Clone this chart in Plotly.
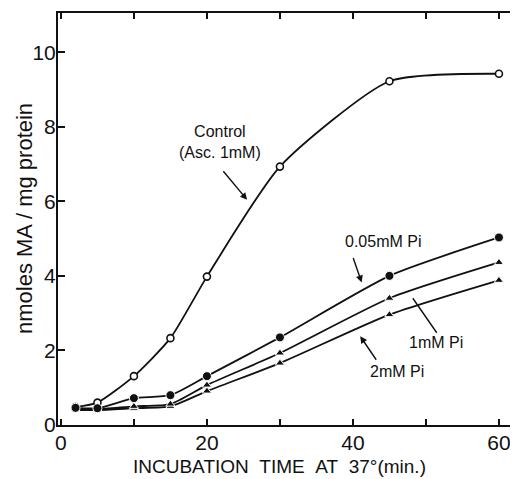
import plotly.graph_objects as go

# ---- data ----
time_min = [2, 5, 10, 15, 20, 30, 45, 60]
control = [0.48, 0.60, 1.31, 2.33, 3.98, 6.93, 9.22, 9.42]
pi_005mM = [0.46, 0.45, 0.72, 0.80, 1.31, 2.35, 4.00, 5.03]
pi_1mM = [0.42, 0.42, 0.50, 0.56, 1.07, 1.93, 3.40, 4.36]
pi_2mM = [0.40, 0.40, 0.45, 0.50, 0.91, 1.66, 2.96, 3.88]

x_tickvals = [0, 10, 20, 30, 40, 50, 60]
x_ticktext = ["0", "", "20", "", "40", "", "60"]
y_tickvals = [0, 2, 4, 6, 8, 10]
y_ticktext = ["0", "2", "4", "6", "8", "10"]

FONT = "Liberation Sans, Arial, sans-serif"
BLACK = "#111111"

fig = go.Figure()

line_style = dict(color=BLACK, width=1.8, shape="spline", smoothing=0.6)

fig.add_trace(go.Scatter(
    x=time_min, y=control, mode="lines+markers", name="Control",
    line=line_style,
    marker=dict(symbol="circle", size=7, color="white",
                line=dict(color=BLACK, width=1.6)),
))
fig.add_trace(go.Scatter(
    x=time_min, y=pi_2mM, mode="lines+markers", name="2mM Pi",
    line=line_style,
    marker=dict(symbol="triangle-up", size=8, color=BLACK,
                line=dict(color="white", width=1)),
))
fig.add_trace(go.Scatter(
    x=time_min, y=pi_1mM, mode="lines+markers", name="1mM Pi",
    line=line_style,
    marker=dict(symbol="triangle-up", size=8, color=BLACK,
                line=dict(color="white", width=1)),
))
fig.add_trace(go.Scatter(
    x=time_min, y=pi_005mM, mode="lines+markers", name="0.05mM Pi",
    line=line_style,
    marker=dict(symbol="circle", size=9, color=BLACK,
                line=dict(color="white", width=1)),
))

ann_font = dict(family=FONT, size=16, color=BLACK)

annotations = [
    # curve labels
    dict(x=21.8, y=7.6, xref="x", yref="y", text="Control<br>(Asc. 1mM)",
         showarrow=False, font=ann_font, align="center"),
    dict(x=44.1, y=4.92, xref="x", yref="y", text="0.05mM Pi",
         showarrow=False, font=ann_font),
    dict(x=51.4, y=2.22, xref="x", yref="y", text="1mM Pi",
         showarrow=False, font=ann_font),
    dict(x=46.0, y=1.44, xref="x", yref="y", text="2mM Pi",
         showarrow=False, font=ann_font),
    # pointer arrows
    dict(x=25.5, y=6.04, xref="x", yref="y", ax=-25, ay=-30, text="",
         showarrow=True, arrowhead=2, arrowsize=1, arrowwidth=1.4,
         arrowcolor=BLACK),
    dict(x=41.2, y=3.82, xref="x", yref="y", ax=-9, ay=-26, text="",
         showarrow=True, arrowhead=2, arrowsize=1, arrowwidth=1.4,
         arrowcolor=BLACK),
    dict(x=48.2, y=3.40, xref="x", yref="y", ax=25, ay=36, text="",
         showarrow=True, arrowhead=0, arrowwidth=1.4, arrowcolor=BLACK),
    dict(x=41.0, y=2.38, xref="x", yref="y", ax=17, ay=25, text="",
         showarrow=True, arrowhead=2, arrowsize=1, arrowwidth=1.4,
         arrowcolor=BLACK),
    # axis titles
    dict(x=0, y=0.5, xref="paper", yref="paper", xanchor="center",
         yanchor="middle", xshift=-34, textangle=-90,
         text="nmoles MA / mg protein", showarrow=False,
         font=dict(family=FONT, size=22, color=BLACK)),
    dict(x=0.484, y=0, xref="paper", yref="paper", xanchor="center",
         yanchor="middle", yshift=-41,
         text="INCUBATION\u00a0\u00a0TIME\u00a0\u00a0AT\u00a0\u00a037°(min.)",
         showarrow=False, font=dict(family=FONT, size=19, color=BLACK)),
]

# The page body has an 8px default margin, so the figure is sized to fill
# the 518x479 window exactly.
fig.update_layout(
    width=510, height=471,
    margin=dict(l=50, r=3, t=5, b=54),
    paper_bgcolor="white", plot_bgcolor="white",
    showlegend=False,
    font=dict(family=FONT, color=BLACK),
    annotations=annotations,
)

fig.update_xaxes(
    range=[-0.4, 62.2], tickmode="array", tickvals=x_tickvals,
    ticktext=x_ticktext, ticks="inside", ticklen=6, tickwidth=1.5,
    tickcolor=BLACK, showline=True, linecolor=BLACK, linewidth=2,
    mirror="ticks", showgrid=False, zeroline=False,
    tickfont=dict(family=FONT, size=21, color=BLACK),
    ticklabelstandoff=-2,
)
fig.update_yaxes(
    range=[0.0, 11.05], tickmode="array", tickvals=y_tickvals,
    ticktext=y_ticktext, ticks="inside", ticklen=7, tickwidth=1.5,
    tickcolor=BLACK, showline=True, linecolor=BLACK, linewidth=2,
    showgrid=False, zeroline=False,
    tickfont=dict(family=FONT, size=21, color=BLACK),
    ticklabelstandoff=-4,
)

fig.write_html("out.html")
